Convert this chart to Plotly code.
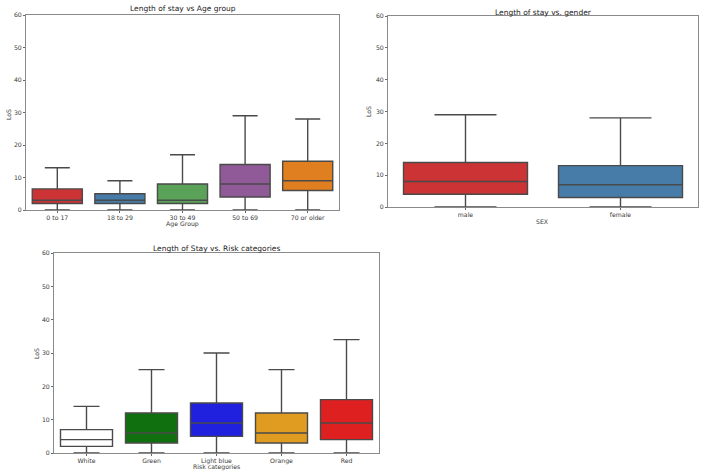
import colorsys
import plotly.graph_objects as go

# ---------------- data ----------------
age_groups = ["0 to 17", "18 to 29", "30 to 49", "50 to 69", "70 or older"]
age_low = [0, 0, 0, 0, 0]
age_q1 = [2, 2, 2, 4, 6]
age_med = [3, 3, 3, 8, 9]
age_q3 = [6.5, 5, 8, 14, 15]
age_high = [13, 9, 17, 29, 28]

sexes = ["male", "female"]
sex_low = [0, 0]
sex_q1 = [4, 3]
sex_med = [8, 7]
sex_q3 = [14, 13]
sex_high = [29, 28]

risks = ["White", "Green", "Light blue", "Orange", "Red"]
risk_low = [0, 0, 0, 0, 0]
risk_q1 = [2, 3, 5, 3, 4]
risk_med = [4, 6, 9, 6, 9]
risk_q3 = [7, 12, 15, 12, 16]
risk_high = [14, 25, 30, 25, 34]

y_ticks = [0, 10, 20, 30, 40, 50, 60]

# ---------------- styles ----------------
def desat(hexc, prop=0.75):
    r, g, b = [int(hexc[i:i + 2], 16) / 255 for i in (1, 3, 5)]
    h, l, s = colorsys.rgb_to_hls(r, g, b)
    r, g, b = colorsys.hls_to_rgb(h, l, s * prop)
    return "rgb(%d,%d,%d)" % (round(r * 255), round(g * 255), round(b * 255))

age_colors = [desat(c) for c in ["#e41a1c", "#377eb8", "#4daf4a", "#984ea3", "#ff7f00"]]
sex_colors = [desat(c) for c in ["#e41a1c", "#377eb8"]]
risk_colors = [desat(c) for c in ["#ffffff", "#008000", "#0000ff", "#ffa500", "#ff0000"]]
edge = "#4a4a4a"
FONT = "DejaVu Sans"
TICK = 6.2
TXT = "#3a3a3a"

fig = go.Figure()

def add_boxes(cats, lo, q1, med, q3, hi, colors, xa, ya):
    for i, c in enumerate(cats):
        fig.add_trace(go.Box(
            x=[c], q1=[q1[i]], median=[med[i]], q3=[q3[i]],
            lowerfence=[lo[i]], upperfence=[hi[i]],
            fillcolor=colors[i], line=dict(color=edge, width=1.4),
            whiskerwidth=0.5, width=0.8, boxpoints=False,
            xaxis=xa, yaxis=ya, showlegend=False, hoverinfo="skip"))

add_boxes(age_groups, age_low, age_q1, age_med, age_q3, age_high, age_colors, "x", "y")
add_boxes(sexes, sex_low, sex_q1, sex_med, sex_q3, sex_high, sex_colors, "x2", "y2")
add_boxes(risks, risk_low, risk_q1, risk_med, risk_q3, risk_high, risk_colors, "x3", "y3")

W, H = 708, 475

def xax(dom, anchor, n):
    return dict(domain=dom, anchor=anchor, type="category", range=[-0.5, n - 0.5],
                showline=True, mirror=True, linecolor="#8a8a8a", linewidth=1,
                ticks="outside", ticklen=2, tickcolor="#666", showgrid=False, zeroline=False,
                automargin=False, tickfont=dict(family=FONT, size=TICK, color=TXT))

def yax(dom, anchor):
    return dict(domain=dom, anchor=anchor, range=[0, 60], tickvals=y_ticks,
                showline=True, mirror=True, linecolor="#8a8a8a", linewidth=1,
                ticks="outside", ticklen=2, tickcolor="#666", showgrid=False, zeroline=False,
                automargin=False, tickfont=dict(family=FONT, size=TICK, color=TXT))

fig.update_layout(
    width=W, height=H, margin=dict(l=0, r=0, t=0, b=0),
    paper_bgcolor="white", plot_bgcolor="white", boxmode="overlay",
    xaxis=xax([26 / W, 339 / W], "y", 5),
    yaxis=yax([1 - 210 / H, 1 - 15 / H], "x"),
    xaxis2=xax([388 / W, 698 / W], "y2", 2),
    yaxis2=yax([1 - 207 / H, 1 - 16 / H], "x2"),
    xaxis3=xax([54 / W, 379 / W], "y3", 5),
    yaxis3=yax([1 - 453 / H, 1 - 253 / H], "x3"),
)

def note(text, x, y, size=TICK, color=TXT, angle=0):
    fig.add_annotation(text=text, x=x / W, y=1 - y / H, xref="paper", yref="paper",
                       showarrow=False, xanchor="center", yanchor="middle", textangle=angle,
                       font=dict(family=FONT, size=size, color=color))

# subplot titles
note("Length of stay vs Age group", (26 + 339) / 2, 9, size=7.5, color="#222")
note("Length of stay vs. gender", (388 + 698) / 2, 12, size=7.5, color="#222")
note("Length of Stay vs. Risk categories", (54 + 379) / 2, 248, size=7.5, color="#222")
# axis titles
note("Age Group", 182, 224)
note("SEX", 542, 221)
note("Risk categories", 217, 467)
note("LoS", 9, 115, angle=-90)
note("LoS", 368, 112, angle=-90)
note("LoS", 36, 354, angle=-90)

fig.write_html("out.html", config={"displayModeBar": False},
               post_script="document.body.style.margin='0';document.body.style.padding='0';")
